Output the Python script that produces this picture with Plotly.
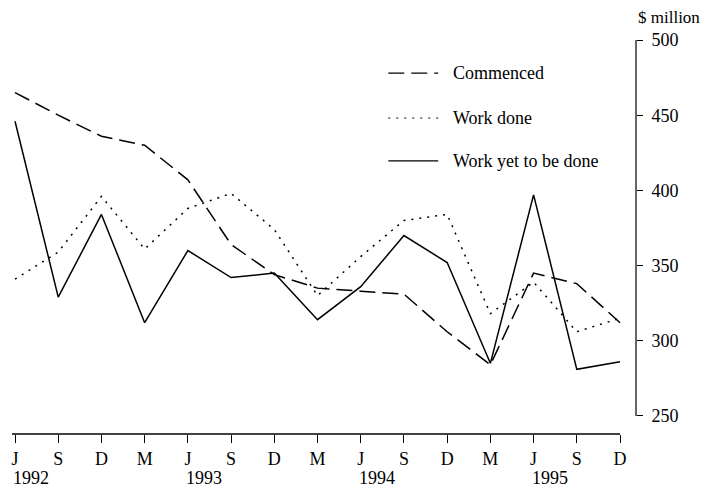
import plotly.graph_objects as go

# ---- data ----
month_labels = ["J", "S", "D", "M", "J", "S", "D", "M", "J", "S", "D", "M", "J", "S", "D"]
year_labels = ["1992", "1993", "1994", "1995"]
year_positions = [0, 4, 8, 12]
commenced = [465, 450, 436, 430, 407, 364, 344, 335, 333, 331, 306, 284, 345, 338, 312]
work_done = [341, 359, 396, 361, 388, 398, 374, 330, 356, 380, 384, 318, 339, 306, 315]
work_yet = [446, 329, 384, 312, 360, 342, 345, 314, 336, 370, 352, 285, 397, 281, 286]
y_ticks = [250, 300, 350, 400, 450, 500]

series_names = ["Commenced", "Work done", "Work yet to be done"]
series_values = [commenced, work_done, work_yet]
series_dash = ["16px,7px", "2px,6px", "solid"]

FONT = "Liberation Serif"
x_idx = list(range(len(month_labels)))

fig = go.Figure()
for name, vals, dash in zip(series_names, series_values, series_dash):
    fig.add_trace(go.Scatter(
        x=x_idx, y=vals, mode="lines", name=name,
        line=dict(color="black", width=1.5, dash=dash),
        showlegend=False,
    ))

# manual legend (sample lines + labels)
legend_rows = [0.916, 0.802, 0.693]
shapes = []
annotations = []
for name, dash, yy in zip(series_names, series_dash, legend_rows):
    shapes.append(dict(type="line", xref="paper", yref="paper",
                       x0=0.603, x1=0.683, y0=yy, y1=yy,
                       line=dict(color="black", width=1.2, dash=dash)))
    annotations.append(dict(text=name, xref="paper", yref="paper",
                            x=0.703, y=yy, xanchor="left", yanchor="middle",
                            showarrow=False,
                            font=dict(family=FONT, size=18, color="black")))

# axis lines
shapes.append(dict(type="line", xref="x", yref="paper", x0=-0.07, x1=14,
                   y0=0, y1=0, line=dict(color="black", width=1.5)))
shapes.append(dict(type="line", xref="paper", yref="y", x0=1, x1=1,
                   y0=250, y1=500, line=dict(color="black", width=1.2)))

# year labels
for yl, xp in zip(year_labels, year_positions):
    annotations.append(dict(text=yl, xref="x", yref="paper", x=xp, y=0,
                            xanchor="left", yanchor="middle", xshift=-4,
                            yshift=-44, showarrow=False,
                            font=dict(family=FONT, size=18, color="black")))

annotations.append(dict(text="$ million", xref="paper", yref="paper",
                        x=1, y=1, xanchor="left", yanchor="middle",
                        xshift=0, yshift=23, showarrow=False,
                        font=dict(family=FONT, size=17, color="black")))

# page body has an 8px margin, so the figure is 8px smaller than the window
fig.update_layout(
    width=708, height=481,
    margin=dict(l=4, r=80, t=32, b=55, autoexpand=False),
    paper_bgcolor="white", plot_bgcolor="white",
    showlegend=False,
    shapes=shapes, annotations=annotations,
    font=dict(family=FONT, size=17, color="black"),
)
fig.update_xaxes(
    range=[-0.07, 14.37], tickmode="array", tickvals=x_idx, ticktext=month_labels,
    ticks="outside", ticklen=8, tickwidth=1.2, tickcolor="black",
    showgrid=False, zeroline=False, showline=False,
    tickfont=dict(family=FONT, size=18, color="black"),
)
fig.update_yaxes(
    side="right", range=[238, 500], tickmode="array", tickvals=y_ticks,
    ticks="outside", ticklen=6, tickwidth=1.2, tickcolor="black",
    ticklabelstandoff=5,
    showgrid=False, zeroline=False, showline=False,
    tickfont=dict(family=FONT, size=18, color="black"),
)

fig.write_html("out.html")
